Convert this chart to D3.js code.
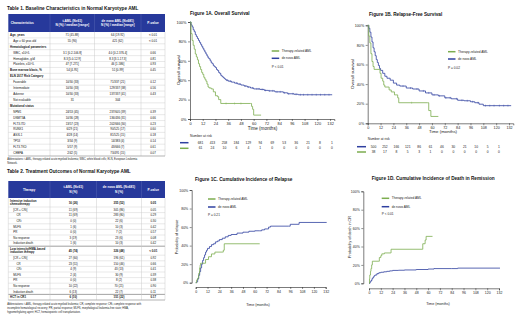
<!DOCTYPE html>
<html><head><meta charset="utf-8">
<script src="https://cdn.jsdelivr.net/npm/d3@7"></script>
<style>html,body{margin:0;padding:0;background:#fff;}svg{display:block;font-family:"Liberation Sans",Arial,sans-serif;}</style>
</head><body><svg id="c" width="520" height="318"></svg>
<script>
// ---------------- DATA ----------------
const t1Title = "Table 1. Baseline Characteristics in Normal Karyotype AML";
const t1Head = ["Characteristics", "t-AML (N=61)\nN (%) / median [range]", "de novo AML (N=681)\nN (%) / median [range]", "P-value"];
const t1Labels = ["Age, years","Age ≥ 60 year-old","Hematological parameters","WBC, x10⁹/L","Hemoglobin, g/dl","Platelets, x10⁹/L","Bone marrow blasts, %","ELN 2017 Risk Category","Favorable","Intermediate","Adverse","Not evaluable","Mutational status","NPM1","DNMT3A","FLT3-ITD","RUNX1","ASXL1","TP53","FLT3-TKD","CEBPA"];
const t1Level = [0,1,0,1,1,1,0,0,1,1,1,1,0,1,1,1,1,1,1,1,1];
const t1TAML = ["71 (45-88)","55 (90)","","3.1 [0.2-106.8]","8.3 [5.0-12.9]","47 [7-271]","54 [4-95]","","10/30 (33)","10/30 (33)","10/30 (33)","31","","24/53 (45)","10/36 (28)","13/57 (23)","6/29 (21)","4/28 (14)","3/34 (9)","5/57 (9)","2/42 (5)"];
const t1DeNovo = ["64 (19-92)","421 (62)","","4.0 [0.2-376.4]","8.3 [3.1-17.3]","46 [1-586]","51 [0-99]","","71/337 (21)","129/337 (38)","137/337 (41)","344","","237/605 (39)","136/436 (31)","202/666 (30)","90/525 (17)","81/525 (15)","14/383 (4)","43/666 (7)","73/491 (15)"];
const t1P = ["< 0.01","< 0.01","","0.66","0.81","0.93","0.45","","0.12","0.56","0.43","","","0.39","0.66","0.23","0.60","0.18","0.14","0.61","0.07"];
const t1Note = ["Abbreviations: t-AML, therapy-related acute myeloid leukemia; WBC, white blood cells; ELN, European Leukemia","Network."];

const t2Title = "Table 2. Treatment Outcomes of Normal Karyotype AML";
const t2Head = ["Therapy", "t-AML (N=61)\nN (%)", "de novo AML (N=681)\nN (%)", "P-value"];
const t2Labels = ["Intensive induction\nchemotherapy","[CR + CRi]","CR","CRi","MLFS","PR","No response","Induction death","Low intensity/HMA-based\ninduction therapy","[CR + CRi]","CR","CRi","MLFS","PR","No response","Induction death","HCT in CR1"];
const t2Level = [0,1,2,2,1,1,1,1,0,1,2,2,1,1,1,1,0];
const t2TAML = ["16 (26)","11 (69)","11 (69)","0 (0)","1 (6)","0 (0)","3 (19)","1 (6)","45 (74)","27 (60)","23 (51)","4 (9)","2 (4)","0 (0)","10 (22)","6 (13)","6 (10)"];
const t2DeNovo = ["355 (52)","305 (86)","283 (80)","22 (6)","10 (3)","7 (2)","23 (6)","10 (3)","326 (48)","196 (61)","150 (46)","43 (13)","30 (9)","8 (2)","70 (21)","22 (7)","151 (22)"];
const t2P = ["0.05","0.05","0.29","0.30","0.42","0.57","0.08","0.42","< 0.01","0.92","0.66","0.41","0.39","0.38","0.90","0.11","0.17"];
const t2Note = ["Abbreviations: t-AML, therapy-related acute myeloid leukemia; CR, complete response; CRi, complete response with","incomplete hematological recovery; PR, partial response; MLFS, morphological leukemia-free state; HMA,","hypomethylating agent; HCT, hematopoietic cell transplantation."];

const seriesNames = ["Therapy-related AML", "de novo AML"];
const monthTicks = [0,12,24,36,48,60,72,84,96,108,120,132];
const pctTicks = [0,20,40,60,80,100];

// Figure 1A overall survival [month, %]
const osTAML = [[0,100],[1,88],[2,81],[3,76],[4,72],[5,67],[6,64],[7,61],[8,57],[9,54],[10,51],[11,48],[12,46],[13,43],[14,41],[15,39],[16,36],[17,33],[18,32],[20,31],[22,28],[24,24],[26,23],[27,20],[29,16],[57,16],[58,13],[59,10],[60,4],[67,4]];
const osDeNovo = [[0,100],[1,97],[2,95],[3,92],[4,90],[5,87],[6,85],[7,83],[8,81],[9,79],[10,77],[11,75],[12,73],[13,71],[14,69],[15,67],[16,65],[17,63],[18,62],[19,60],[20,58],[21,57],[22,55],[23,54],[24,53],[25,51],[26,50],[27,48],[28,47],[29,45],[30,44],[31,43],[32,42],[33,41],[34,40],[36,39],[39,38],[42,37],[45,36],[48,35],[51,34],[54,33],[57,32],[60,31],[66,30.5],[70,29.5],[74,29],[80,28],[88,27],[92,26],[98,25.5],[102,25],[134,25]];
const osTAMLCens = [34,42,48];
const osDeNovoCens = [35,38,44,47,52,55,59,63,65,68,71,75,78,82,85,89,93,97,100,104,107,111,115,119,123,127,131];
const osRiskTAML = [61,24,10,6,4,1,0,0,0,0,0,0];
const osRiskDeNovo = [681,413,258,184,129,94,69,53,36,21,8,1];

// Figure 1B relapse-free survival
const rfsTAML = [[0,100],[1,89],[2,82],[3,71],[4,63],[5,58],[6,55],[11.5,51],[12.5,46],[14,43],[15,39],[16,37],[20,34],[22,32],[25,29],[28,26],[29,21],[56,21],[57,13],[59,7],[66,7]];
const rfsDeNovo = [[0,100],[1,97],[2,93],[3,88],[4,83],[5,77],[6,73],[7,69],[8,65],[9,62],[10,59],[11,56],[12,54],[14,51],[16,48],[18,46],[21,44],[24,41],[27,39],[30,38],[36,36],[42,35],[48,33],[54,31],[60,29],[66,28],[72,26],[78,25],[84,23.5],[90,23],[96,22],[100,21],[104,19.5],[108,18],[134,18]];
const rfsTAMLCens = [41];
const rfsDeNovoCens = [33,40,46,52,57,62,67,73,77,83,88,93,98,103,110,114,118,123,127,131];
const rfsRiskTAML = [38,17,8,5,3,1,0,0,0,0,0,0];
const rfsRiskDeNovo = [500,252,166,121,86,61,46,30,21,10,5,1];

// Figure 1C cumulative incidence of relapse
const relTAML = [[0,0],[1,3],[2,5],[3,10],[4,16],[4.5,19],[5,21],[9.5,21],[10,25],[13,28],[16,31],[19.5,33],[27,33],[28,35],[29,42],[65,42]];
const relDeNovo = [[0,0],[1,1],[2,4],[3,8],[4,12],[5,16],[6,20],[7,24],[8,27],[9,30],[10,33],[11,35],[12,37],[14,39],[16,41],[18,42],[20,44],[22,45],[24,46.5],[27,48],[30,49.5],[33,51],[36,52],[42,53.5],[48,54.5],[54,55.5],[60,56],[65,56],[67,57],[70,58],[74,60],[76,61],[94,61],[96,63],[104,63],[105,65],[133,65]];

// Figure 1D cumulative incidence of death in remission
const ndmTAML = [[0,0],[0.5,5],[0.8,9],[1.5,13],[2,16],[2.7,20],[3.4,24],[10,24],[10.5,28],[12,30],[13,32],[15.6,33],[22,33],[22.4,37],[54,37],[54.6,43],[57,47],[58,51],[64.5,51]];
const ndmDeNovo = [[0,0],[1,1.5],[2,3],[3,5],[4,6.5],[5,8],[6,9],[8,10.5],[10,11.5],[12,12],[15,12.5],[18,13],[21,13.5],[24,14],[30,14.2],[36,14.5],[48,15],[60,15.5],[66,16],[84,16],[90,16.5],[133,16.5]];

// ---------------- DRAW ----------------
const svg = d3.select("#c");
const BLUE = "#2f40a0", GREEN = "#7cad4f", HEAD = "#27399b", GRID = "#c8c8c8";

function multiText(g, str, x, y, lh, anchor, size, weight, fill) {
  const lines = str.split("\n");
  const t = g.append("text").attr("x", x).attr("text-anchor", anchor)
    .attr("font-size", size).attr("font-weight", weight).attr("fill", fill);
  lines.forEach((ln, i) => t.append("tspan").attr("x", x)
    .attr("y", y + (i - (lines.length - 1) / 2) * lh).attr("dominant-baseline", "central").text(ln));
  return t;
}

function drawTable(cfg) {
  const g = svg.append("g");
  const cols = cfg.cols;
  g.append("text").attr("x", cfg.titleX).attr("y", cfg.titleY).attr("dominant-baseline", "central")
    .attr("font-size", 4.7).attr("font-weight", "bold").attr("fill", "#111").text(cfg.title);
  g.append("rect").attr("x", cols[0]).attr("y", cfg.headTop).attr("width", cols[4] - cols[0])
    .attr("height", cfg.headBot - cfg.headTop).attr("fill", HEAD);
  const hc = (cfg.headTop + cfg.headBot) / 2;
  cfg.head.forEach((h, i) => {
    const cx = i === 0 && cfg.firstLeft ? cols[0] + 2.5 : (cols[i] + cols[i + 1]) / 2;
    multiText(g, h, cx, hc, 4.2, i === 0 && cfg.firstLeft ? "start" : "middle", 3.2, "bold", "#fff");
  });
  for (let i = 1; i < 4; i++) g.append("line").attr("x1", cols[i]).attr("x2", cols[i])
    .attr("y1", cfg.headTop).attr("y2", cfg.headBot).attr("stroke", "#5d6cb8").attr("stroke-width", 0.4);
  const rows = cfg.labels.map((l, i) => ({label: l, level: cfg.level[i], a: cfg.a[i], b: cfg.b[i], p: cfg.p[i], y0: cfg.rowY0(i), y1: cfg.rowY1(i)}));
  const rg = g.selectAll("g.row").data(rows).join("g");
  rg.append("line").attr("x1", cols[0]).attr("x2", cols[4]).attr("y1", d => d.y1).attr("y2", d => d.y1)
    .attr("stroke", GRID).attr("stroke-width", 0.4);
  rg.each(function(d, i) {
    const s = d3.select(this), cy = (d.y0 + d.y1) / 2;
    multiText(s, d.label, cols[0] + 1.8 + d.level * 3.2, cy, 3.4, "start", 2.9, d.level === 0 ? "bold" : "normal", "#111");
    const vw = (d.level === 0 && cfg.boldTopValues) ? "bold" : "normal";
    multiText(s, d.a, (cols[1] + cols[2]) / 2, cy, 3.4, "middle", 2.9, vw, "#111");
    multiText(s, d.b, (cols[2] + cols[3]) / 2, cy, 3.4, "middle", 2.9, vw, "#111");
    multiText(s, d.p, (cols[3] + cols[4]) / 2, cy, 3.4, "middle", 2.9, vw, "#111");
    if (cfg.sectionLines && d.level === 0 && i > 0)
      s.append("line").attr("x1", cols[0]).attr("x2", cols[4]).attr("y1", d.y0).attr("y2", d.y0)
        .attr("stroke", "#777").attr("stroke-width", 0.6);
  });
  const yEnd = rows[rows.length - 1].y1;
  [0, 1, 2, 3, 4].forEach(i => g.append("line").attr("x1", cols[i]).attr("x2", cols[i])
    .attr("y1", cfg.headBot).attr("y2", yEnd).attr("stroke", GRID).attr("stroke-width", 0.45));
  g.append("line").attr("x1", cols[0]).attr("x2", cols[4]).attr("y1", yEnd).attr("y2", yEnd)
    .attr("stroke", "#888").attr("stroke-width", 0.5);
  cfg.note.forEach((n, i) => g.append("text").attr("x", cols[0] - 1).attr("y", yEnd + cfg.noteGap + i * 4.1)
    .attr("dominant-baseline", "central").attr("font-size", 2.6).attr("fill", "#222").text(n));
}

// Table 1
const t1Band = d3.scaleBand().domain(d3.range(t1Labels.length)).range([32, 156]);
drawTable({title: t1Title, titleX: 7, titleY: 8, cols: [8.3, 50, 94.5, 141, 165], headTop: 14, headBot: 32,
  head: t1Head, firstLeft: true, labels: t1Labels, level: t1Level, a: t1TAML, b: t1DeNovo, p: t1P,
  rowY0: i => t1Band(i), rowY1: i => t1Band(i) + t1Band.bandwidth(), note: t1Note, noteGap: 3, boldTopValues: false});

// Table 2
const t2Heights = t2Labels.map(l => l.includes("\n") ? 9 : 5.6);
const t2Cum = [0]; t2Heights.forEach((h, i) => t2Cum.push(t2Cum[i] + h));
const t2Y = d3.scaleLinear().domain([0, 1]).range([198, 199]);
drawTable({title: t2Title, titleX: 7, titleY: 171, cols: [8.3, 50, 96.5, 141.5, 165], headTop: 181, headBot: 198,
  head: t2Head, firstLeft: false, labels: t2Labels, level: t2Level, a: t2TAML, b: t2DeNovo, p: t2P,
  rowY0: i => t2Y(t2Cum[i]), rowY1: i => t2Y(t2Cum[i + 1]), note: t2Note, noteGap: 4, boldTopValues: true, sectionLines: true});

// --------- Figures ----------
function stepAt(data, t) { let v = data[0][1]; for (const d of data) { if (d[0] <= t) v = d[1]; else break; } return v; }

function drawPanel(c) {
  const g = svg.append("g");
  const x = d3.scaleLinear().domain(c.xDomain).range(c.xRange);
  const y = d3.scaleLinear().domain([0, 100]).range(c.yRange);
  g.append("text").attr("x", c.titleX).attr("y", c.titleY).attr("dominant-baseline", "central")
    .attr("font-size", 4.7).attr("font-weight", "bold").attr("fill", "#111").text(c.title);
  const yAx = g.append("g").attr("transform", `translate(${c.yAxisX},0)`)
    .call(d3.axisLeft(y).tickValues(pctTicks).tickFormat(d => d + "%").tickSize(2).tickPadding(1.5));
  const xAx = g.append("g").attr("transform", `translate(0,${c.xAxisY})`)
    .call(d3.axisBottom(x).tickValues(monthTicks).tickSize(2).tickPadding(c.xTickPad || 1.5));
  [yAx, xAx].forEach(a => {
    a.selectAll("path").attr("stroke", "#222").attr("stroke-width", 0.6);
    a.selectAll("line").attr("stroke", "#222").attr("stroke-width", 0.5);
    a.selectAll("text").attr("font-size", c.tickSize).attr("fill", "#222").attr("font-family", "Liberation Sans, Arial, sans-serif");
  });
  g.append("text").attr("transform", `translate(${c.yLabX},${c.yLabY}) rotate(-90)`).attr("text-anchor", "middle")
    .attr("dominant-baseline", "central").attr("font-size", c.labSize).attr("fill", "#222").text(c.yLabel);
  g.append("text").attr("x", c.xLabX).attr("y", c.xLabY).attr("text-anchor", "middle")
    .attr("dominant-baseline", "central").attr("font-size", c.xLabSize).attr("fill", "#222").text("Time (months)");
  const line = d3.line().x(d => x(d[0])).y(d => y(d[1])).curve(d3.curveStepAfter);
  [[c.blue, BLUE, c.blueCens], [c.green, GREEN, c.greenCens]].forEach(([data, col, cens]) => {
    g.append("path").datum(data).attr("d", line).attr("fill", "none").attr("stroke", col).attr("stroke-width", 0.8);
    if (cens) g.selectAll(null).data(cens).join("line").attr("x1", d => x(d)).attr("x2", d => x(d))
      .attr("y1", d => y(stepAt(data, d)) - 1).attr("y2", d => y(stepAt(data, d)) + 1)
      .attr("stroke", col).attr("stroke-width", 0.4);
  });
  [[GREEN, seriesNames[0], c.legY[0]], [BLUE, seriesNames[1], c.legY[1]]].forEach(([col, name, ly]) => {
    g.append("line").attr("x1", c.legX).attr("x2", c.legX + 7.5).attr("y1", ly).attr("y2", ly)
      .attr("stroke", col).attr("stroke-width", 1.5);
    g.append("text").attr("x", c.legX + 10).attr("y", ly).attr("dominant-baseline", "central")
      .attr("font-size", 3.2).attr("fill", "#222").text(name);
  });
  g.append("text").attr("x", c.legX).attr("y", c.pY).attr("dominant-baseline", "central")
    .attr("font-size", 3.2).attr("fill", "#222").text(c.pText);
  if (c.risk) {
    const r = c.risk;
    const rx = d3.scalePoint().domain(d3.range(12)).range(r.range);
    g.append("text").attr("x", r.labX).attr("y", r.labY).attr("dominant-baseline", "central")
      .attr("font-size", 3.4).attr("fill", "#222").text("Number at risk");
    [[r.blue, BLUE, r.rowY[0]], [r.green, GREEN, r.rowY[1]]].forEach(([vals, col, ry]) => {
      g.append("line").attr("x1", r.lineX[0]).attr("x2", r.lineX[1]).attr("y1", ry).attr("y2", ry)
        .attr("stroke", col).attr("stroke-width", 1.5);
      g.selectAll(null).data(vals).join("text").attr("x", (d, i) => rx(i)).attr("y", ry)
        .attr("text-anchor", "middle").attr("dominant-baseline", "central").attr("font-size", 3.3)
        .attr("fill", "#222").text(d => d);
    });
  }
}

drawPanel({title: "Figure 1A. Overall Survival", titleX: 190, titleY: 13,
  xDomain: [0, 136], xRange: [190, 334.3], yRange: [119, 22], yAxisX: 190, xAxisY: 119, tickSize: 3.9,
  yLabel: "Overall survival", yLabX: 178.5, yLabY: 70, labSize: 4.4, xLabX: 262.5, xLabY: 128, xLabSize: 4.6,
  blue: osDeNovo, green: osTAML, blueCens: osDeNovoCens, greenCens: osTAMLCens,
  legX: 271.7, legY: [51, 58.3], pY: 66.7, pText: "P < 0.01",
  risk: {labX: 190, labY: 135.5, rowY: [142.7, 148.3], lineX: [180, 188.5], range: [200.5, 332], blue: osRiskDeNovo, green: osRiskTAML}});

drawPanel({title: "Figure 1B. Relapse-Free Survival", titleX: 369, titleY: 14,
  xDomain: [0, 136], xRange: [367.7, 513.3], yRange: [123.3, 25.3], yAxisX: 367.7, xAxisY: 123.3, tickSize: 3.7, xTickPad: 0.8,
  yLabel: "Overall survival", yLabX: 352.5, yLabY: 74, labSize: 4.4, xLabX: 443, xLabY: 131, xLabSize: 4.4,
  blue: rfsDeNovo, green: rfsTAML, blueCens: rfsDeNovoCens, greenCens: rfsTAMLCens,
  legX: 448, legY: [51.7, 59], pY: 67.7, pText: "P = 0.02",
  risk: {labX: 367.7, labY: 139.3, rowY: [146.7, 152], lineX: [357, 366], range: [373.5, 499], blue: rfsRiskDeNovo, green: rfsRiskTAML}});

drawPanel({title: "Figure 1C. Cumulative Incidence of Relapse", titleX: 195, titleY: 179,
  xDomain: [0, 132], xRange: [195.7, 325.7], yRange: [282.7, 190], yAxisX: 191.7, xAxisY: 287, tickSize: 3.5,
  yLabel: "Probability of relapse", yLabX: 177, yLabY: 237, labSize: 3.7, xLabX: 258, xLabY: 305, xLabSize: 3.7,
  blue: relDeNovo, green: relTAML, legX: 208, legY: [199, 207], pY: 215, pText: "P = 0.21"});

drawPanel({title: "Figure 1D. Cumulative Incidence of Death in Remission", titleX: 371.7, titleY: 178,
  xDomain: [0, 132], xRange: [369, 499], yRange: [283.3, 191.3], yAxisX: 363.3, xAxisY: 288.3, tickSize: 3.5,
  yLabel: "Probability of death in CR", yLabX: 350, yLabY: 237, labSize: 3.7, xLabX: 438, xLabY: 304, xLabSize: 3.7,
  blue: ndmDeNovo, green: ndmTAML, legX: 381.7, legY: [198.3, 206.7], pY: 214, pText: "P < 0.01"});
</script></body></html>
